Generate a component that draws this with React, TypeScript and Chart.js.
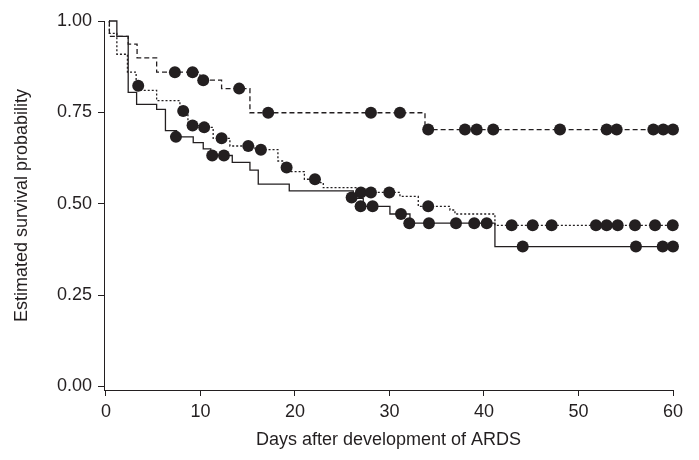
import React, { useEffect, useRef } from "react";
import { Chart, registerables } from "chart.js";

Chart.register(...registerables);

// Kaplan–Meier step points: [day, survival after the step]
const solidDays = [0.35, 1.16, 2.36, 3.25, 5.37, 6.3, 7.48, 9.24, 10.3, 11.1, 13.37, 15.24, 16.12, 19.4, 26.17, 27.23, 30.05, 32.17, 41.16, 60];
const solidSurv = [1.0, 0.958, 0.805, 0.772, 0.758, 0.70, 0.683, 0.667, 0.65, 0.632, 0.613, 0.592, 0.554, 0.535, 0.515, 0.493, 0.472, 0.447, 0.383, 0.383];
const solidCensDays = [7.41, 11.25, 12.49, 26.0, 26.95, 28.22, 31.22, 32.1, 34.18, 37.04, 38.97, 40.29, 44.1, 56.08, 58.91, 60];
const solidCensSurv = [0.683, 0.632, 0.632, 0.517, 0.493, 0.493, 0.472, 0.447, 0.447, 0.447, 0.447, 0.447, 0.383, 0.383, 0.383, 0.383];

const dottedDays = [0.35, 0.37, 1.16, 2.28, 3.2, 3.7, 5.37, 7.83, 8.68, 9.8, 11.35, 13.12, 15.77, 18.2, 18.8, 19.5, 21.0, 22.4, 23.0, 26.53, 31.11, 33.05, 36.4, 36.93, 41.16, 60];
const dottedSurv = [1.0, 0.966, 0.909, 0.86, 0.823, 0.81, 0.782, 0.754, 0.714, 0.709, 0.679, 0.658, 0.648, 0.617, 0.599, 0.588, 0.567, 0.558, 0.544, 0.531, 0.52, 0.493, 0.483, 0.472, 0.441, 0.441];
const dottedCensDays = [3.42, 8.18, 9.17, 10.4, 12.24, 15.06, 16.4, 19.12, 22.12, 26.98, 28.04, 29.98, 34.1, 42.93, 45.15, 47.16, 51.85, 52.98, 54.15, 55.98, 58.1, 59.97];
const dottedCensSurv = [0.823, 0.754, 0.714, 0.709, 0.679, 0.658, 0.648, 0.599, 0.567, 0.531, 0.531, 0.531, 0.493, 0.441, 0.441, 0.441, 0.441, 0.441, 0.441, 0.441, 0.441, 0.441];

const dashedDays = [0.35, 0.37, 2.36, 3.3, 5.37, 9.95, 12.24, 15.24, 33.76, 60];
const dashedSurv = [1.0, 0.958, 0.937, 0.899, 0.86, 0.838, 0.815, 0.749, 0.703, 0.703];
const dashedCensDays = [7.3, 9.17, 10.3, 14.1, 17.17, 28.04, 31.11, 34.1, 37.99, 39.23, 40.98, 48.04, 52.98, 54.04, 57.92, 58.97, 60];
const dashedCensSurv = [0.86, 0.86, 0.838, 0.815, 0.749, 0.749, 0.749, 0.703, 0.703, 0.703, 0.703, 0.703, 0.703, 0.703, 0.703, 0.703, 0.703];

const xTicks = [0, 10, 20, 30, 40, 50, 60];
const yTicks = [0, 0.25, 0.5, 0.75, 1.0];

const xTitle = "Days after development of ARDS";
const yTitle = "Estimated survival probability";

const INK = "#231f20";
const FONT = "'Liberation Sans', Arial, Helvetica, sans-serif";

function pts(xs: number[], ys: number[]) {
  return xs.map((x, i) => ({ x, y: ys[i] }));
}

function stepLine(xs: number[], ys: number[], dash: number[]) {
  return {
    type: "line" as const,
    data: pts(xs, ys),
    borderColor: INK,
    borderWidth: 1.3,
    borderDash: dash,
    pointRadius: 0,
    pointHoverRadius: 0,
    stepped: true,
    fill: false,
    clip: false as const,
    order: 2,
  };
}

function censor(xs: number[], ys: number[]) {
  return {
    type: "line" as const,
    data: pts(xs, ys),
    showLine: false,
    pointRadius: 6,
    pointHoverRadius: 6,
    pointBackgroundColor: INK,
    pointBorderColor: INK,
    pointBorderWidth: 0,
    clip: false as const,
    order: 1,
  };
}

export default function App() {
  const ref = useRef<HTMLCanvasElement | null>(null);

  useEffect(() => {
    if (!ref.current) return;
    const chart = new Chart(ref.current, {
      type: "line",
      data: {
        datasets: [
          stepLine(solidDays, solidSurv, []),
          stepLine(dottedDays, dottedSurv, [2, 2]),
          stepLine(dashedDays, dashedSurv, [5, 3]),
          censor(solidCensDays, solidCensSurv),
          censor(dottedCensDays, dottedCensSurv),
          censor(dashedCensDays, dashedCensSurv),
        ] as any,
      },
      options: {
        animation: false,
        responsive: true,
        maintainAspectRatio: false,
        layout: { padding: { top: 21, right: 26, left: 0, bottom: 0 } },
        plugins: { legend: { display: false }, tooltip: { enabled: false } },
        scales: {
          x: {
            type: "linear",
            min: -0.2,
            max: 60,
            afterBuildTicks: (s: any) => {
              s.ticks = xTicks.map((v) => ({ value: v }));
            },
            afterFit: (s: any) => {
              s.height = 70;
            },
            grid: {
              drawOnChartArea: false,
              drawTicks: true,
              tickLength: 6,
              tickColor: INK,
              tickWidth: 1,
            },
            border: { display: true, color: INK, width: 1 },
            ticks: {
              color: INK,
              padding: 5,
              maxRotation: 0,
              font: { family: FONT, size: 18 },
              callback: (v: any) => String(v),
            },
            title: {
              display: true,
              text: xTitle,
              color: INK,
              font: { family: FONT, size: 18 },
              padding: { top: 0, bottom: 9 },
            },
          },
          y: {
            type: "linear",
            min: -0.0095,
            max: 1.0,
            afterBuildTicks: (s: any) => {
              s.ticks = yTicks.map((v) => ({ value: v }));
            },
            afterFit: (s: any) => {
              s.width = 104;
            },
            grid: {
              drawOnChartArea: false,
              drawTicks: true,
              tickLength: 6,
              tickColor: INK,
              tickWidth: 1,
            },
            border: { display: true, color: INK, width: 1 },
            ticks: {
              color: INK,
              padding: 6,
              font: { family: FONT, size: 18 },
              callback: (v: any) => Number(v).toFixed(2),
            },
            title: {
              display: true,
              text: yTitle,
              color: INK,
              font: { family: FONT, size: 18 },
              padding: { top: 11, bottom: 0 },
            },
          },
        },
      } as any,
    });
    return () => chart.destroy();
  }, []);

  return (
    <div style={{ position: "absolute", left: 0, top: 0, width: 699, height: 460 }}>
      <canvas ref={ref} style={{ width: "100%", height: "100%" }} />
    </div>
  );
}
